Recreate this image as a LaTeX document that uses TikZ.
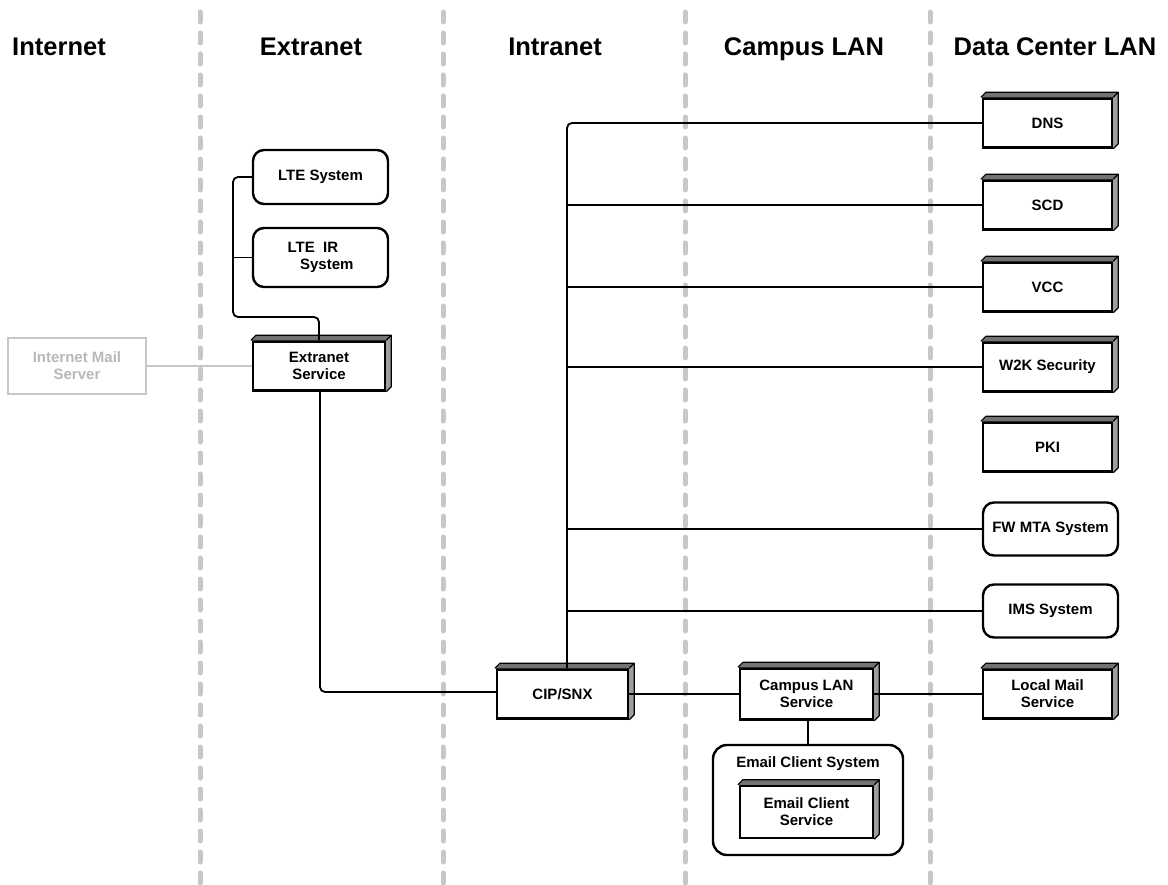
\documentclass[tikz,border=0pt]{standalone}
\usepackage{fontspec}
\setmainfont{Liberation Sans}
\usetikzlibrary{calc}
\begin{document}
\begin{tikzpicture}[x=1pt,y=-1pt,
  sep/.style={draw=black!22, line width=5pt, line cap=round, dash pattern=on 10pt off 11pt},
  hdr/.style={font=\fontsize{25.5}{28}\selectfont\bfseries, anchor=base},
  lbl/.style={font=\fontsize{15}{17}\selectfont\bfseries},
  cube/.style={draw, fill=white, line width=2.4pt, minimum width=129pt, minimum height=49pt,
    align=center, lbl, inner sep=2pt},
  rbox/.style={draw, fill=white, line width=2.4pt, rounded corners=11pt, minimum width=135pt, minimum height=53pt,
    align=center, lbl, inner sep=2pt},
  conn/.style={line width=1.8pt, rounded corners=5pt}
]
\useasboundingbox (0,0) rectangle (1168,885);
% separators
\foreach \x in {200,443,685,930} \draw[sep] (\x,12) -- (\x,884);
% headers
\node[hdr] (hInternet) at (59,56) {Internet};
\node[hdr] (hExtranet) at (311,56) {Extranet};
\node[hdr] (hIntranet) at (555,56) {Intranet};
\node[hdr] (hCampus) at (804,56) {Campus LAN};
\node[hdr] (hDC) at (1055,56) {Data Center LAN};

% data center column
\node[cube] (dns) at (1047.5,123) {DNS};
\node[cube] (scd) at (1047.5,205) {SCD};
\node[cube] (vcc) at (1047.5,287) {VCC};
\node[cube] (w2k) at (1047.5,367) {W2K Security};
\node[cube] (pki) at (1047.5,447) {PKI};
\node[rbox] (fwmta) at (1050.5,529) {FW MTA System};
\node[rbox] (ims) at (1050.5,611) {IMS System};
\node[cube] (lms) at (1047.5,694) {Local Mail\\Service};

% intranet / campus
\node[cube, minimum width=131pt] (cip) at (562.5,694) {CIP/SNX};
\node[cube, minimum width=133pt, minimum height=51pt] (cls) at (806.5,694) {Campus LAN\\Service};
\node[draw, fill=white, line width=2.4pt, rounded corners=14pt, minimum width=190pt, minimum height=110pt] (ecs) at (808,800) {};
\node[lbl] (ecst) at (808,764) {Email Client System};
\node[cube, minimum width=133pt, minimum height=52pt] (ecsv) at (806.5,812) {Email Client\\Service};

% extranet
\node[cube, minimum width=132pt] (ext) at (319,366) {Extranet\\Service};
\node[rbox, minimum height=54pt] (lte) at (320.5,177) {LTE System};
\node[rbox, minimum height=59pt, align=left] (lteir) at (320.5,257.5) {LTE\ \ IR\\\ \ \ System};
\node[draw=black!22, line width=2.4pt, minimum width=138pt, minimum height=56pt, align=center,
  text=black!28, lbl] (ims2) at (77,366) {Internet Mail\\Server};

% 3D faces
\foreach \n in {dns,scd,vcc,w2k,pki,lms,cip,cls,ecsv,ext} {
  \fill[black!55] ([xshift=-1pt]\n.north west) -- ++(5,-5) -- ($(\n.north east)+(5,-5)$) -- (\n.north east) -- cycle;
  \fill[black!38] (\n.north east) -- ++(5,-5) -- ($(\n.south east)+(5,-5)$) -- ([yshift=1pt]\n.south east) -- cycle;
  \draw[line width=1.2pt, line join=round] ([xshift=-1pt]\n.north west) -- ++(5,-5) -- ($(\n.north east)+(5,-5)$) -- ($(\n.south east)+(5,-5)$) -- (\n.south east);
  \draw[line width=1.2pt] (\n.north east) -- ++(5,-5);
}

% connectors
\coordinate (busTop) at (567,123);
\draw[conn] (dns.west) -- (busTop) -- (cip.north -| busTop);
\foreach \n in {scd,vcc,w2k,fwmta,ims} \draw[conn] (\n.west -| busTop) -- (\n.west);
\draw[conn] (cip.east) -- (cls.west);
\draw[conn] (cls.east) -- (lms.west);
\draw[conn] (cls.south -| ecs.north) -- (ecs.north);
\coordinate (ltebus) at (233,177);
\coordinate (ltejoin) at (233,317);
\draw[conn] (lte.west) -- (ltebus) -- (ltejoin) -- (ltejoin -| ext.north) -- (ext.north);
\draw[conn] (lteir.west) -- (lteir.west -| ltebus);
\coordinate (extdown) at (320,692);
\draw[conn] (ext.south -| extdown) -- (extdown) -- (extdown -| cip.west);
\draw[line width=1.8pt, draw=black!22] (ims2.east) -- (ext.west);
\end{tikzpicture}
\end{document}
